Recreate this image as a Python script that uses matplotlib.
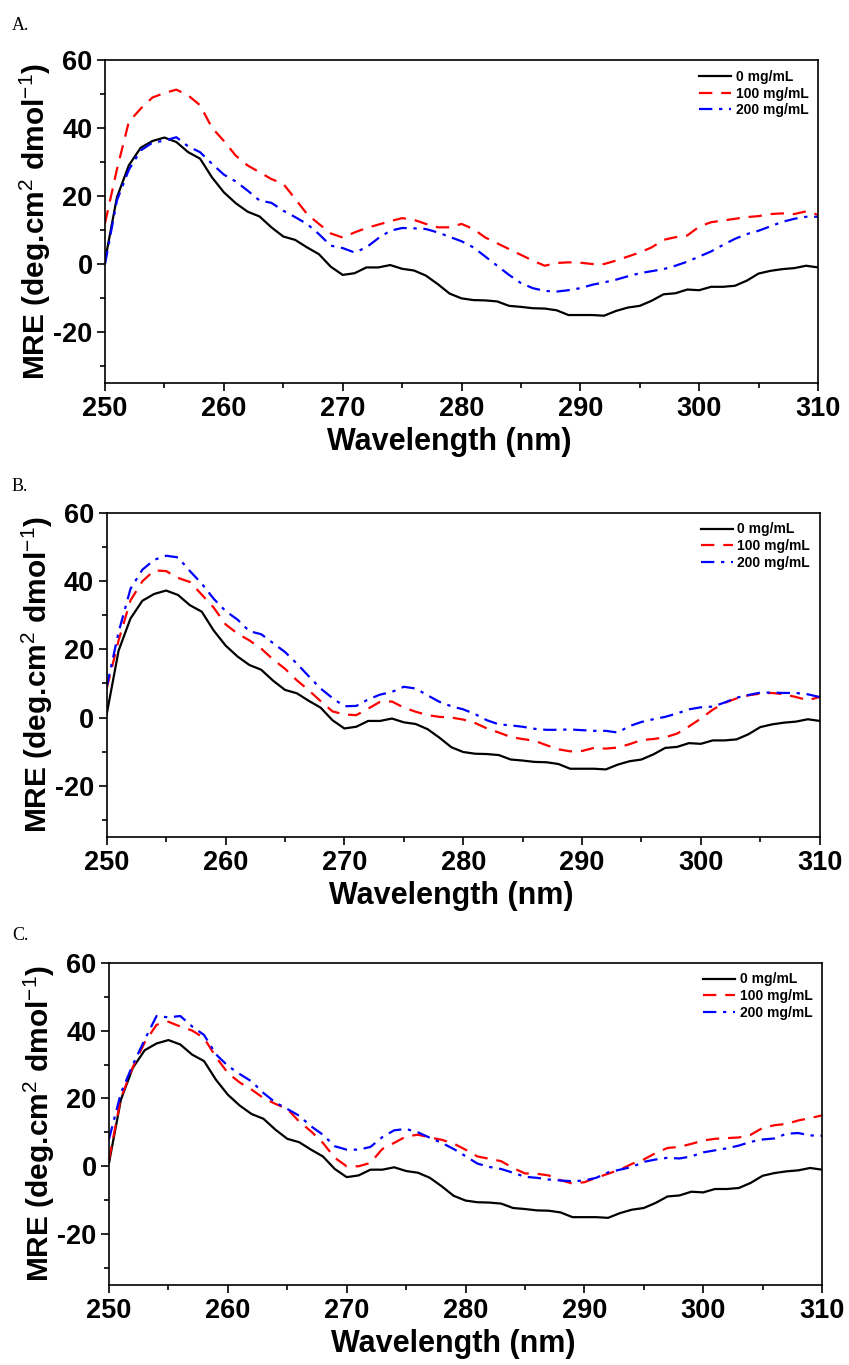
import numpy as np
import matplotlib.pyplot as plt
from matplotlib.ticker import MultipleLocator

plt.rcParams['font.family'] = ['Liberation Sans', 'DejaVu Sans']
plt.rcParams['axes.unicode_minus'] = False
plt.rcParams['mathtext.fontset'] = 'custom'
plt.rcParams['mathtext.rm'] = 'Liberation Sans'
plt.rcParams['mathtext.bf'] = 'Liberation Sans:bold'

# longitud de onda (nm), un punto por nm
wavelength = np.arange(250, 311)

# 0 mg/mL (igual en los tres paneles)
mre_0 = [1, 19.6, 29, 34.2, 36.2, 37.2, 35.9, 32.9, 31, 25.5,
         21.1, 17.9, 15.4, 14, 10.8, 8.1, 7.1, 4.9, 2.9, -0.8,
         -3.2, -2.7, -1, -1, -0.3, -1.4, -1.9, -3.4, -5.9, -8.7,
         -10.1, -10.6, -10.7, -11, -12.3, -12.6, -13, -13.1, -13.6, -15,
         -15, -15, -15.2, -13.8, -12.8, -12.3, -10.8, -8.9, -8.6, -7.5,
         -7.7, -6.7, -6.7, -6.4, -4.9, -2.8, -2, -1.5, -1.2, -0.5, -1]

# panel A
a_100 = [12, 27.8, 41.8, 45.7, 49, 50.3, 51.3, 49.6, 46.7, 40.1,
         36.2, 31.9, 29, 27, 25, 23.6, 19.2, 14.7, 11.8, 9,
         7.8, 9.3, 10.6, 11.6, 12.6, 13.5, 13, 11.8, 10.8, 10.8,
         11.8, 10.3, 7.8, 6.1, 4.4, 2.7, 1, -0.5, 0.3, 0.5,
         0.4, 0, 0, 1, 2.2, 3.4, 4.9, 7.1, 7.9, 8.4,
         11, 12.3, 12.8, 13.3, 13.8, 14.1, 14.7, 14.9, 14.7, 15.5, 14.5]
a_200 = [0, 18.7, 27.7, 33.4, 35.7, 36.3, 37.3, 34.6, 32.9, 29.5,
         26.3, 24.3, 21.6, 18.7, 18, 15.7, 13.8, 11.8, 8.8, 5.4,
         4.7, 3.4, 4.9, 7.6, 9.8, 10.6, 10.5, 10.3, 9.3, 8,
         6.7, 4.9, 2.2, -0.5, -3.2, -5.6, -7.1, -7.9, -8.1, -7.7,
         -7.1, -6.1, -5.4, -4.6, -3.6, -2.7, -2.1, -1.5, -0.5, 0.7,
         2.2, 3.7, 5.6, 7.4, 8.8, 9.8, 11.1, 12.4, 13.3, 13.9, 13.9]

# panel B
b_100 = [8.5, 22.6, 34.3, 39.9, 43.1, 42.9, 40.9, 39.7, 36, 32.2,
         27.3, 24.6, 22.6, 20.2, 17, 14.3, 10.9, 8, 4.8, 1.8,
         0.9, 0.7, 2.6, 4.6, 4.7, 2.9, 1.7, 0.7, 0.2, 0,
         -0.6, -1.6, -3.2, -4.4, -5.7, -6.3, -6.8, -8.1, -9.3, -9.9,
         -9.8, -8.9, -9.1, -8.8, -7.8, -6.6, -6.3, -5.8, -4.7, -2.6,
         -0.3, 2.3, 4.3, 5.6, 6.5, 7, 7.2, 6.8, 6, 5.1, 6]
b_200 = [9, 25, 37.7, 43.3, 46.2, 47.4, 46.9, 42.9, 39.2, 34.8,
         31.2, 28.7, 25.3, 24.4, 21.8, 19.2, 15.8, 12.1, 8.5, 5.7,
         3.3, 3.4, 5.3, 6.7, 7.5, 9, 8.5, 6.5, 4.6, 3.3,
         2.4, 1, -0.8, -2, -2.3, -2.7, -3.3, -3.6, -3.6, -3.5,
         -3.7, -3.9, -3.9, -4.4, -2.5, -1.3, -0.5, 0.2, 1.2, 2.4,
         3, 3.2, 4.4, 5.8, 6.6, 7.3, 7.3, 7.2, 7.2, 6.8, 6]

# panel C
c_100 = [2, 20.1, 29.2, 36.5, 41.7, 42.6, 41.2, 40, 37.8, 32.2,
         27.5, 24.7, 22.6, 20.1, 18.4, 16.9, 13.2, 10.3, 6.9, 2.5,
         0, 0, 1, 5.1, 6.9, 8.8, 9.3, 8.5, 7.8, 6.7,
         4.9, 2.9, 2.2, 1.5, -0.5, -2.1, -2.2, -2.7, -4.1, -5.1,
         -4.7, -3.4, -2.2, -1, 0.7, 2, 3.9, 5.4, 5.7, 6.6,
         7.6, 8.1, 8.3, 8.5, 9.3, 11.3, 12.1, 12.5, 13.5, 14.2, 15]
c_200 = [8, 21.6, 29.9, 37.3, 44.3, 43.9, 44.3, 41.2, 38.7, 33,
         29.6, 27.2, 25, 21.6, 18.8, 16.9, 14.9, 11.8, 9.3, 5.9,
         4.9, 4.9, 5.7, 8.6, 10.6, 11, 10, 8.4, 6.9, 5.1,
         3, 0.8, -0.2, -0.8, -1.9, -3.1, -3.4, -3.9, -4.2, -4.4,
         -4.2, -3.4, -1.8, -1, -0.2, 1.3, 2, 2.5, 2.3, 2.9,
         4.1, 4.7, 5.3, 6.1, 7.2, 7.9, 8.2, 9.6, 9.8, 9.1, 9]

paneles = ['A.', 'B.', 'C.']
series = [(a_100, a_200), (b_100, b_200), (c_100, c_200)]
etiquetas = ['0 mg/mL', '100 mg/mL', '200 mg/mL']

fig = plt.figure(figsize=(8.49, 13.65), dpi=100)

# [left, bottom, width, height] de cada panel y altura de la letra
posiciones = [[0.1237, 0.7194, 0.8398, 0.2366],
              [0.1257, 0.3868, 0.8398, 0.2376],
              [0.1284, 0.0586, 0.8398, 0.2361]]
letra_y = [1 - 25 / 1365, 1 - 486 / 1365, 1 - 935 / 1365]

for i in range(3):
    ax = fig.add_axes(posiciones[i])
    y100, y200 = series[i]
    ax.plot(wavelength, mre_0, color='black', lw=1.6, label=etiquetas[0])
    ax.plot(wavelength, y100, color='red', lw=1.6, dashes=(6, 4), label=etiquetas[1])
    ax.plot(wavelength, y200, color='blue', lw=1.6, dashes=(6, 3, 1.5, 3), label=etiquetas[2])

    ax.set_xlim(250, 310)
    ax.set_ylim(-35, 60)
    ax.xaxis.set_major_locator(MultipleLocator(10))
    ax.xaxis.set_minor_locator(MultipleLocator(5))
    ax.yaxis.set_major_locator(MultipleLocator(20))
    ax.yaxis.set_minor_locator(MultipleLocator(10))
    ax.tick_params(which='major', direction='out', length=6, width=1.2,
                   labelsize=19.5, pad=3)
    ax.tick_params(which='minor', direction='out', length=3.5, width=1.2)
    for lab in ax.get_xticklabels() + ax.get_yticklabels():
        lab.set_fontweight('bold')
    for s in ax.spines.values():
        s.set_linewidth(1.2)

    ax.set_xlabel('Wavelength (nm)', fontsize=22, fontweight='bold', labelpad=4)
    ax.xaxis.label.set_x(0.483)
    ax.set_ylabel(r'MRE (deg.cm$^{2}$ dmol$^{-1}$)', fontsize=21.5,
                  fontweight='bold', labelpad=0)

    ax.legend(loc='upper right', frameon=False, prop={'weight': 'bold', 'size': 10},
              handlelength=2.3, handletextpad=0.3, labelspacing=0.2,
              borderaxespad=0.3)

    fig.text(0.014, letra_y[i], paneles[i], fontsize=13,
             family='Liberation Serif', va='center', ha='left')

fig.savefig('out.png', dpi=100)
